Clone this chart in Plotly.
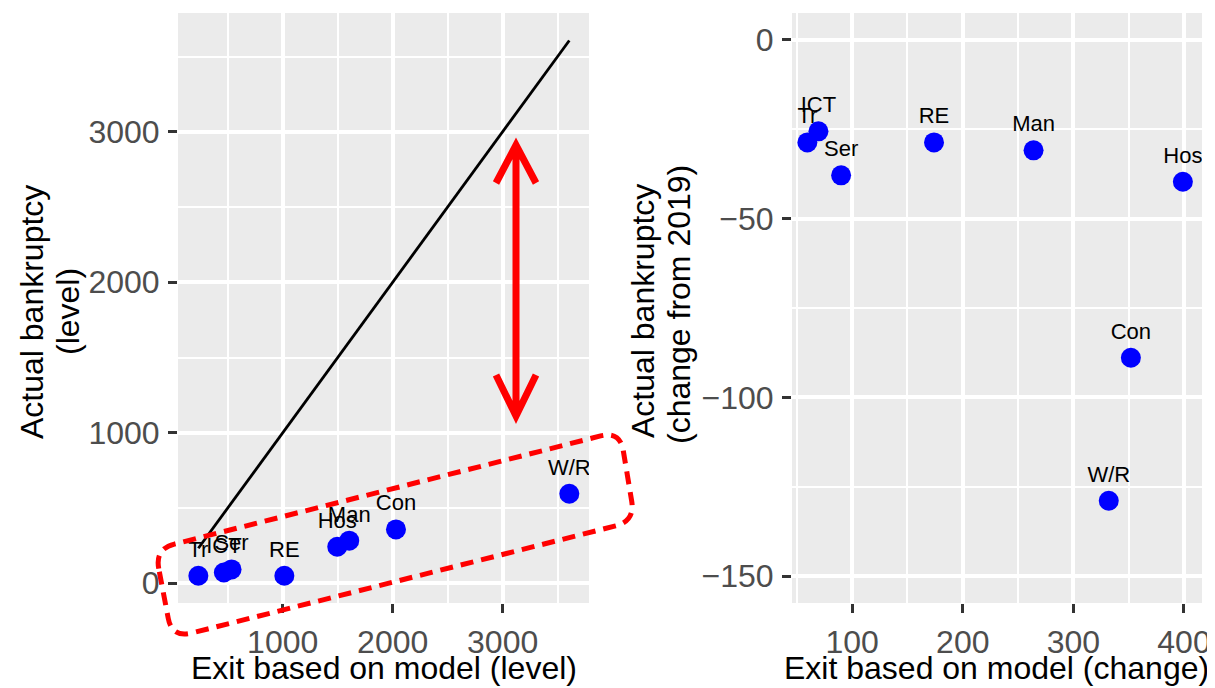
import plotly.graph_objects as go

# ---------------- data ----------------
sectors = ["Tr", "ICT", "Ser", "RE", "Hos", "Man", "Con", "W/R"]
level_model = [233, 465, 535, 1015, 1496, 1605, 2030, 3606]
level_actual = [50, 72, 92, 50, 243, 283, 358, 595]

change_model = [59.5, 69.5, 90, 174, 399, 264, 352, 332]
change_actual = [-28.7, -25.6, -37.9, -28.7, -39.7, -30.9, -88.9, -128.9]

left_xticks = [1000, 2000, 3000]
left_yticks = [0, 1000, 2000, 3000]
right_xticks = [100, 200, 300, 400]
right_yticks = [0, -50, -100, -150]

# ---------------- geometry ----------------
OFF = 8  # page body margin
W, H = 1215 - OFF, 688 - OFF
ML, MR, MT, MB = 178 - OFF, 13, 13 - OFF, 85
PW = W - ML - MR
PH = H - MT - MB


def px(x):
    return (x - OFF - ML) / PW


def py(y):
    return (H - MB - (y - OFF)) / PH


FONT = "Liberation Sans, Arial, Helvetica, sans-serif"
BG = "#EBEBEB"

fig = go.Figure()

# 45-degree line
lo, hi = min(level_model), max(level_model)
fig.add_trace(go.Scatter(x=[lo, hi], y=[lo, hi], mode="lines",
                         line=dict(color="black", width=2.8),
                         xaxis="x", yaxis="y", hoverinfo="skip",
                         showlegend=False))

fig.add_trace(go.Scatter(x=level_model, y=level_actual, mode="markers+text",
                         text=sectors, textposition="top center",
                         textfont=dict(family=FONT, size=22, color="black"),
                         marker=dict(color="#0000FF", size=20),
                         xaxis="x", yaxis="y", showlegend=False))

fig.add_trace(go.Scatter(x=change_model, y=change_actual, mode="markers+text",
                         text=sectors, textposition="top center",
                         textfont=dict(family=FONT, size=22, color="black"),
                         marker=dict(color="#0000FF", size=20),
                         xaxis="x2", yaxis="y2", showlegend=False))


def axis_style(**kw):
    d = dict(showgrid=True, gridcolor="white", gridwidth=4,
             zeroline=False, showline=False,
             ticks="outside", ticklen=9, tickwidth=3, tickcolor="#333333",
             tickfont=dict(family=FONT, size=32, color="#4D4D4D"),
             ticklabelstandoff=2,
             minor=dict(showgrid=True, gridcolor="white", gridwidth=2.2,
                        ticks=""))
    d.update(kw)
    return d


left_dom = [0, (589 - 178) / PW]
right_dom = [(792 - 178) / PW, 1]

fig.update_layout(
    width=W, height=H,
    margin=dict(l=ML, r=MR, t=MT, b=MB, autoexpand=False),
    paper_bgcolor="white",
    plot_bgcolor=BG,
    showlegend=False,
    font=dict(family=FONT),
    xaxis=axis_style(domain=left_dom, range=[48, 3785], tickvals=left_xticks,
                     minor_dtick=500, minor_tick0=0, anchor="y"),
    yaxis=axis_style(domain=[0, 1], range=[-131, 3789], tickvals=left_yticks,
                     minor_dtick=500, minor_tick0=0, anchor="x"),
    xaxis2=axis_style(domain=right_dom, range=[45.6, 416.3], tickvals=right_xticks,
                      minor_dtick=50, minor_tick0=0, anchor="y2"),
    yaxis2=axis_style(domain=[0, 1], range=[-157.5, 7.5], tickvals=right_yticks,
                      minor_dtick=25, minor_tick0=0, anchor="x2"),
)

# ---------------- titles ----------------
def title(text, x, y, angle=0, size=32):
    fig.add_annotation(text=text, x=px(x), y=py(y), xref="paper", yref="paper",
                       showarrow=False, textangle=angle,
                       xanchor="center", yanchor="middle",
                       font=dict(family=FONT, size=size, color="black"))


title("Exit based on model (level)", 384, 668)
title("Exit based on model (change)", 996, 668)
title("Actual bankruptcy", 32, 312, -90)
title("(level)", 68, 312, -90)
title("Actual bankruptcy", 643, 311, -90)
title("(change from 2019)", 679, 305, -90)

# ---------------- red double arrow ----------------
ax = 516
tip_top, arm_top = 145, 183
tip_bot, arm_bot = 416, 375
aw = 20
arrow_path = (
    f"M {px(ax)},{py(tip_top)} L {px(ax)},{py(tip_bot)} "
    f"M {px(ax-aw)},{py(arm_top)} L {px(ax)},{py(tip_top)} L {px(ax+aw)},{py(arm_top)} "
    f"M {px(ax-aw)},{py(arm_bot)} L {px(ax)},{py(tip_bot)} L {px(ax+aw)},{py(arm_bot)}"
)
fig.add_shape(type="path", path=arrow_path, xref="paper", yref="paper",
              line=dict(color="#FF0000", width=7), layer="above")

# ---------------- dashed rounded rectangle ----------------
corners = [(155, 549), (620, 431), (635, 521), (172, 638)]
r = 20


def towards(p, q, d):
    dx, dy = q[0] - p[0], q[1] - p[1]
    L = (dx * dx + dy * dy) ** 0.5
    return (p[0] + dx / L * d, p[1] + dy / L * d)


segs = []
n = len(corners)
for i in range(n):
    c = corners[i]
    prev = corners[i - 1]
    nxt = corners[(i + 1) % n]
    a = towards(c, prev, r)
    b = towards(c, nxt, r)
    if i == 0:
        segs.append(f"M {px(a[0])},{py(a[1])}")
    else:
        segs.append(f"L {px(a[0])},{py(a[1])}")
    segs.append(f"Q {px(c[0])},{py(c[1])} {px(b[0])},{py(b[1])}")
segs.append("Z")
fig.add_shape(type="path", path=" ".join(segs), xref="paper", yref="paper",
              line=dict(color="#FF0000", width=5, dash="13px,8px"),
              layer="above")

fig.write_html("out.html")
